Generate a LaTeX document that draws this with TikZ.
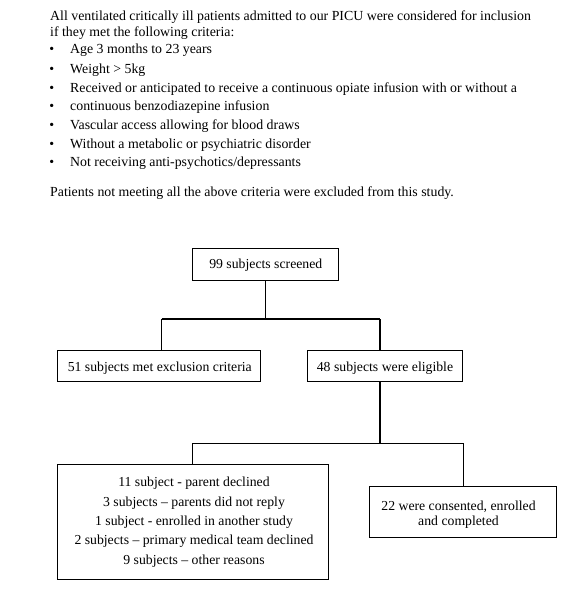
\documentclass[tikz,border=0pt]{standalone}
\usepackage{fontspec}
\setmainfont{Liberation Serif}
\begin{document}
\begin{tikzpicture}[x=1bp,y=-1bp,
  box/.style={draw,line width=1bp,inner sep=0pt},
  conn/.style={line width=1.4bp},
  hdr/.style={anchor=base west,inner sep=0pt,font=\fontsize{13.9}{16}\selectfont},
  btxt/.style={anchor=base,inner sep=0pt,font=\fontsize{13.8}{16}\selectfont}]
\useasboundingbox (0,0) rectangle (585,594);
% header
\node[hdr] (h1) at (50,20.7) {All ventilated critically ill patients admitted to our PICU were considered for inclusion};
\node[hdr] (h2) at (50,36.3) {if they met the following criteria:};
\foreach \y/\t [count=\i] in {53.3/{Age 3 months to 23 years},
    73.1/{Weight > 5kg},
    92.5/{Received or anticipated to receive a continuous opiate infusion with or without a},
    111/{continuous benzodiazepine infusion},
    129.5/{Vascular access allowing for blood draws},
    148.3/{Without a metabolic or psychiatric disorder},
    166.8/{Not receiving anti-psychotics/depressants}}{
  \node[hdr] (bul\i) at (49.3,\y) {•};
  \node[hdr] (it\i) at (70,\y) {\t};
}
\node[hdr] (h3) at (50,196.7) {Patients not meeting all the above criteria were excluded from this study.};
% boxes
\node[box,minimum width=145.6bp,minimum height=31.7bp] (top) at (265.5,264.2) {};
\node[btxt] (toptxt) at (265.8,268.2) {99 subjects screened};
\node[box,minimum width=203bp,minimum height=31bp] (left) at (159.2,366.2) {};
\node[btxt] (lefttxt) at (159.8,371) {51 subjects met exclusion criteria};
\node[box,minimum width=155bp,minimum height=31bp] (right) at (384.8,366.2) {};
\node[btxt] (righttxt) at (385,371) {48 subjects were eligible};
\node[box,minimum width=270.6bp,minimum height=115bp] (bl) at (193,521.8) {};
\foreach \y/\t [count=\i] in {486.7/{11 subject - parent declined},
    506/{3 subjects – parents did not reply},
    525.2/{1 subject - enrolled in another study},
    544.8/{2 subjects – primary medical team declined},
    564.3/{9 subjects – other reasons}}{
  \node[btxt] (bl\i) at (194,\y) {\t};
}
\node[box,minimum width=186.7bp,minimum height=51.3bp] (br) at (462.7,511.7) {};
\node[btxt] (br1) at (458.5,510.8) {22 were consented, enrolled};
\node[btxt] (br2) at (458.5,525.8) {and completed};
% connectors
\coordinate (j1) at (265.5,319);
\coordinate (jl) at (161.7,319);
\coordinate (jr) at (380,319);
\coordinate (j2) at (380,443.3);
\coordinate (j2l) at (192.7,443.3);
\coordinate (j2r) at (463.3,443.3);
\draw[conn] (top.south) -- (j1);
\draw[conn] (jl) -- (jr);
\draw[conn] (jl) -- (jl |- left.north);
\draw[conn] (jr) -- (jr |- right.north);
\draw[conn] (jr |- right.south) -- (j2);
\draw[conn] (j2l) -- (j2r);
\draw[conn] (j2l) -- (j2l |- bl.north);
\draw[conn] (j2r) -- (j2r |- br.north);
\end{tikzpicture}
\end{document}
